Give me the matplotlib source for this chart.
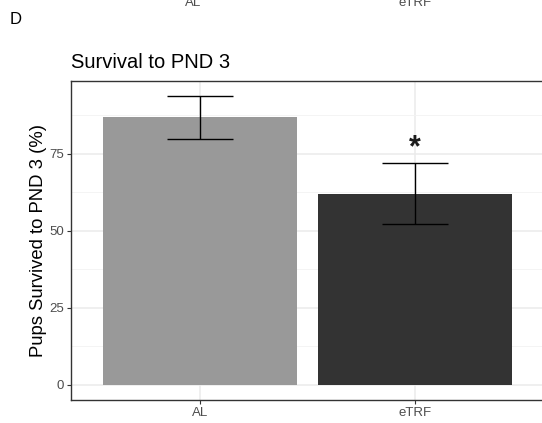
import matplotlib
matplotlib.use("Agg")
import matplotlib.pyplot as plt
from matplotlib.ticker import MultipleLocator

plt.rcParams['font.family'] = ['Liberation Sans', 'DejaVu Sans']

# data
groups = ['AL', 'eTRF']
survival = [87.0, 62.0]
err_low = [79.9, 52.3]
err_high = [93.8, 72.1]
bar_colors = ['#999999', '#333333']
star_group = 'eTRF'
star_y = 77.0

W, H = 542, 423
fig = plt.figure(figsize=(W / 100, H / 100), dpi=100)

# panel (right edge runs slightly past the figure, as in the reference)
ax = fig.add_axes([71 / W, 1 - 400 / H, (544 - 71) / W, (400 - 81) / H])

x = list(range(1, len(groups) + 1))
ax.bar(x, survival, width=0.9, color=bar_colors, zorder=2)
yerr = [[s - l for s, l in zip(survival, err_low)],
        [h - s for s, h in zip(survival, err_high)]]
ax.errorbar(x, survival, yerr=yerr, fmt='none', ecolor='black',
            elinewidth=1.0, capsize=23.5, capthick=1.0, zorder=3)

ax.text(x[groups.index(star_group)], star_y, '*', ha='center', va='center',
        fontsize=22, fontweight='bold', color='#1a1a1a', zorder=4)

ax.set_xlim(0.4, 2.6)
ax.set_ylim(-4.9, 98.7)
ax.set_xticks(x)
ax.set_xticklabels(groups)
ax.yaxis.set_major_locator(MultipleLocator(25))
ax.yaxis.set_minor_locator(MultipleLocator(12.5))
ax.grid(which='major', color='#EBEBEB', linewidth=1.1, zorder=0)
ax.grid(which='minor', axis='y', color='#F2F2F2', linewidth=0.6, zorder=0)
ax.set_axisbelow(True)

for side in ['top', 'left', 'bottom', 'right']:
    ax.spines[side].set_color('#333333')
    ax.spines[side].set_linewidth(1.0)

ax.tick_params(axis='both', which='major', length=3, width=0.8, color='#333333',
               labelcolor='#4D4D4D', labelsize=9.5, pad=2)
ax.tick_params(axis='y', which='minor', length=0)

ax.set_ylabel('Pups Survived to PND 3 (%)', fontsize=13.3, color='black', labelpad=2)

fig.text(71 / W, 1 - 63 / H, 'Survival to PND 3', fontsize=14.5, ha='left', va='center')
fig.text(10 / W, 1 - 20 / H, 'D', fontsize=12, ha='left', va='center')

# labels from the panel above, cut off at the top edge
for g, px in zip(groups, [193, 415]):
    fig.text(px / W, 1 - 6 / H, g, fontsize=9.5, color='#4D4D4D', ha='center', va='baseline')

fig.savefig('out.png', dpi=100)
